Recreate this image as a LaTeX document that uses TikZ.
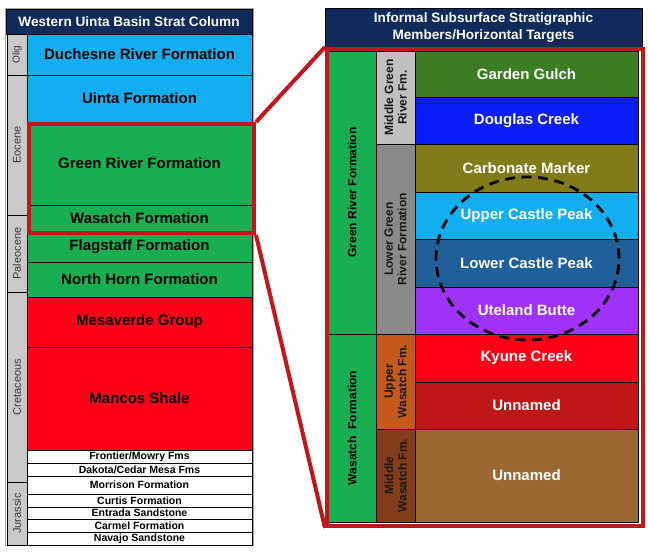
\documentclass[tikz,border=0pt]{standalone}
\usepackage{fontspec}
\setmainfont{Liberation Sans}
\usetikzlibrary{shapes.geometric}
\definecolor{navy}{HTML}{0F2B5B}
\definecolor{lblue}{HTML}{12AEEF}
\definecolor{fgreen}{HTML}{17AF4F}
\definecolor{fred}{HTML}{FF0018}
\definecolor{agegray}{HTML}{C9C9C9}
\definecolor{hlred}{HTML}{C3161C}
\definecolor{ggulch}{HTML}{3B7D23}
\definecolor{dcreek}{HTML}{0A1EF7}
\definecolor{carb}{HTML}{817C19}
\definecolor{lcp}{HTML}{1F5F9A}
\definecolor{ute}{HTML}{A032FA}
\definecolor{unnA}{HTML}{BF1717}
\definecolor{unnB}{HTML}{9C6832}
\definecolor{mgr}{HTML}{C0C0C0}
\definecolor{lgr}{HTML}{8A8A8A}
\definecolor{uwas}{HTML}{C55A1C}
\definecolor{mwas}{HTML}{843C1A}
\definecolor{agetext}{HTML}{3A3A3A}
\newcommand\myFbig{\bfseries\fontsize{15}{17}\selectfont}
\newcommand\myFsmall{\bfseries\fontsize{10.5}{12}\selectfont}
\newcommand\myFage{\fontsize{11}{13}\selectfont}
\newcommand\myFvert{\bfseries\fontsize{12}{14}\selectfont}
\newcommand\myFmem{\bfseries\fontsize{12}{13.5}\selectfont}
\tikzset{
  cell/.style={draw=black, line width=0.9pt, anchor=north west, inner sep=0pt, outer sep=0pt, align=center},
  lcell/.style={cell, minimum width=225pt},
  agecell/.style={cell, fill=agegray, minimum width=20pt},
  rcell/.style={cell, minimum width=223pt, font=\myFbig, text=white},
  c1cell/.style={cell, fill=fgreen, minimum width=48pt},
  c2cell/.style={cell, minimum width=39pt},
  titlebar/.style={cell, fill=navy, text=white, font=\bfseries\fontsize{13.6}{17}\selectfont},
  agelab/.style={rotate=90, font=\myFage, text=agetext, inner sep=0pt},
  vlab/.style={rotate=90, font=\myFvert, inner sep=0pt, align=center},
  mlab/.style={rotate=90, font=\myFmem, inner sep=0pt, align=center, text=black!90},
  hl/.style={draw=hlred, line width=4pt},
}
\begin{document}
\begin{tikzpicture}[x=1pt,y=-1pt]
\useasboundingbox (0,0) rectangle (650,552);
% ---------- left column ----------
\node[draw=gray!70, line width=0.8pt, anchor=north west, minimum width=248pt, minimum height=537pt, inner sep=0pt] (lframe) at (5,8) {};
\node[titlebar, minimum width=246pt, minimum height=25pt] (ltitle) at (6,9) {Western Uinta Basin Strat Column};
\node[agecell, minimum height=41pt] (aolig) at (7,34) {};
\node[agecell, minimum height=140pt] (aeoc) at (7,75) {};
\node[agecell, minimum height=77pt] (apal) at (7,215) {};
\node[agecell, minimum height=190pt] (acret) at (7,292) {};
\node[agecell, minimum height=63pt] (ajur) at (7,482) {};
\node[agelab, font=\fontsize{10}{12}\selectfont] (tolig) at (aolig.center) {Olig};
\node[agelab] (teoc) at (aeoc.center) {Eocene};
\node[agelab] (tpal) at (apal.center) {Paleocene};
\node[agelab] (tcret) at (acret.center) {Cretaceous};
\node[agelab] (tjur) at (ajur.center) {Jurassic};

\node[lcell, fill=lblue, minimum height=41pt, font=\myFbig] (duch) at (27,34) {Duchesne River Formation};
\node[lcell, fill=lblue, minimum height=47pt, font=\myFbig] (uinta) at (27,75) {Uinta Formation};
\node[lcell, fill=fgreen, minimum height=83pt, font=\myFbig] (grf) at (27,122) {Green River Formation};
\node[lcell, fill=fgreen, minimum height=26pt, font=\myFbig] (wasf) at (27,205) {Wasatch Formation};
\node[lcell, fill=fgreen, minimum height=31pt, font=\myFbig] (flag) at (27,231) {Flagstaff Formation};
\node[lcell, fill=fgreen, minimum height=35pt, font=\myFbig] (nhorn) at (27,262) {North Horn Formation};
\node[lcell, fill=fred, minimum height=50pt, font=\myFbig] (mesa) at (27,297) {Mesaverde Group};
\node[lcell, fill=fred, minimum height=103pt, font=\myFbig] (mancos) at (27,347) {Mancos Shale};
\node[lcell, fill=white, minimum height=13pt, font=\myFsmall] (front) at (27,450) {Frontier/Mowry Fms};
\node[lcell, fill=white, minimum height=13pt, font=\myFsmall] (dakota) at (27,463) {Dakota/Cedar Mesa Fms};
\node[lcell, fill=white, minimum height=18pt, font=\myFsmall] (morr) at (27,476) {Morrison Formation};
\node[lcell, fill=white, minimum height=13pt, font=\myFsmall] (curtis) at (27,494) {Curtis Formation};
\node[lcell, fill=white, minimum height=12pt, font=\myFsmall] (entr) at (27,507) {Entrada Sandstone};
\node[lcell, fill=white, minimum height=13pt, font=\myFsmall] (carm) at (27,519) {Carmel Formation};
\node[lcell, fill=white, minimum height=13pt, font=\myFsmall] (nav) at (27,532) {Navajo Sandstone};

\node[hl, anchor=north west, minimum width=225pt, minimum height=109pt, inner sep=0pt] (lhl) at (27,122) {};

% ---------- right column ----------
\node[titlebar, minimum width=317pt, minimum height=39pt] (rtitle) at (325,8) {Informal Subsurface Stratigraphic\\Members/Horizontal Targets};

\node[c1cell, minimum height=283pt] (c1gr) at (328,51) {};
\node[c1cell, minimum height=188pt] (c1was) at (328,334) {};
\node[vlab] (tc1gr) at (c1gr.center) {Green River Formation};
\node[vlab] (tc1was) at (c1was.center) {Wasatch\ \ Formation};

\node[c2cell, fill=mgr, minimum height=93pt] (c2mgr) at (376,51) {};
\node[c2cell, fill=lgr, minimum height=190pt] (c2lgr) at (376,144) {};
\node[c2cell, fill=uwas, minimum height=95pt] (c2uw) at (376,334) {};
\node[c2cell, fill=mwas, minimum height=93pt] (c2mw) at (376,429) {};
\node[mlab] (tc2mgr) at (c2mgr.center) {Middle Green\\River Fm.};
\node[mlab] (tc2lgr) at (c2lgr.center) {Lower Green\\River Formation};
\node[mlab] (tc2uw) at (c2uw.center) {Upper\\Wasatch Fm.};
\node[mlab] (tc2mw) at (c2mw.center) {Middle\\Wasatch Fm.};

\node[rcell, fill=ggulch, minimum height=46pt] (gg) at (415,51) {Garden Gulch};
\node[rcell, fill=dcreek, minimum height=47pt] (dc) at (415,97) {Douglas Creek};
\node[rcell, fill=carb, minimum height=48pt] (cm) at (415,144) {Carbonate Marker};
\node[rcell, fill=lblue, minimum height=47pt] (ucp) at (415,192) {Upper Castle Peak};
\node[rcell, fill=lcp, minimum height=48pt] (lcpk) at (415,239) {Lower Castle Peak};
\node[rcell, fill=ute, minimum height=47pt] (ub) at (415,287) {Uteland Butte};
\node[rcell, fill=fred, minimum height=48pt] (kc) at (415,334) {Kyune Creek};
\node[rcell, fill=unnA, minimum height=47pt] (un1) at (415,382) {Unnamed};
\node[rcell, fill=unnB, minimum height=93pt] (un2) at (415,429) {Unnamed};

\node[hl, anchor=north west, minimum width=316pt, minimum height=477pt, inner sep=0pt] (rframe) at (325,47) {};

\node[draw=black, ellipse, dash pattern=on 10pt off 6.5pt, line width=2.8pt, minimum width=183pt, minimum height=163pt, inner sep=0pt] (target) at (527.5,258.5) {};

% ---------- connectors ----------
\draw[hl] (lhl.north east) -- (rframe.north west);
\draw[hl] (lhl.south east) -- (rframe.south west);
\end{tikzpicture}
\end{document}
